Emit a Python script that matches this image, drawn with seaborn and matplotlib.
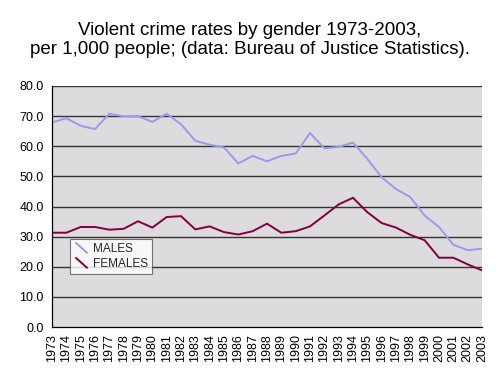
import matplotlib
matplotlib.use("Agg")
import matplotlib.pyplot as plt
import seaborn as sns
import pandas as pd
from matplotlib.ticker import FormatStrFormatter
from matplotlib.legend_handler import HandlerLine2D
from matplotlib.lines import Line2D

years = list(range(1973, 2004))
males = [67.9, 69.3, 66.8, 65.7, 70.8, 69.9, 70.0, 68.1, 70.8, 67.3,
         61.8, 60.5, 59.6, 54.3, 56.8, 55.0, 56.8, 57.6, 64.4, 59.3,
         59.8, 61.2, 55.8, 49.7, 45.8, 43.1, 37.0, 33.2, 27.3, 25.5, 26.0]
females = [31.3, 31.3, 33.2, 33.2, 32.3, 32.6, 35.1, 33.0, 36.5, 36.8,
           32.4, 33.4, 31.5, 30.7, 31.8, 34.3, 31.3, 31.8, 33.4, 37.0,
           40.7, 42.9, 38.1, 34.5, 33.0, 30.6, 28.8, 23.0, 23.0, 20.8, 18.8]
series_names = ["MALES", "FEMALES"]
yticks = [0, 10, 20, 30, 40, 50, 60, 70, 80]
title = "Violent crime rates by gender 1973-2003,\nper 1,000 people; (data: Bureau of Justice Statistics)."

df = pd.DataFrame({"year": years * 2,
                   "rate": males + females,
                   "gender": [series_names[0]] * len(years) + [series_names[1]] * len(years)})


class DiagonalHandler(HandlerLine2D):
    def create_artists(self, legend, orig_handle, xdescent, ydescent,
                       width, height, fontsize, trans):
        line = Line2D([xdescent + 0.15 * width, xdescent + width],
                      [ydescent + height * 1.1, ydescent - height * 0.1])
        self.update_prop(line, orig_handle, legend)
        line.set_transform(trans)
        return [line]


sns.set_theme(style="white")
plt.rcParams['font.family'] = ['Liberation Sans', 'DejaVu Sans']

fig = plt.figure(figsize=(5.0, 3.78), dpi=100)
ax = fig.add_axes([52/500, 1 - 327/378, 430/500, 241/378])
ax.set_facecolor("#DDDBDD")

sns.lineplot(data=df, x="year", y="rate", hue="gender",
             palette={"MALES": "#9A99EE", "FEMALES": "#800040"},
             linewidth=1.4, ax=ax, legend=True)

ax.set_xlim(1973, 2003)
ax.set_ylim(0, 80)
ax.set_yticks(yticks)
ax.yaxis.set_major_formatter(FormatStrFormatter("%.1f"))
ax.set_xticks(years)
ax.set_xticklabels([str(y) for y in years], rotation=90)
ax.tick_params(axis="both", labelsize=9, length=4, width=0.8, color="black",
               direction="out", pad=2, colors="black")
ax.tick_params(axis="x", pad=1)
for y in yticks[1:]:
    ax.axhline(y, color="#333333", linewidth=1.0, zorder=0.5)
for side in ["top", "right"]:
    ax.spines[side].set_visible(False)
for side in ["left", "bottom"]:
    ax.spines[side].set_color("black")
    ax.spines[side].set_linewidth(0.9)
ax.set_xlabel("")
ax.set_ylabel("")

handles, labels = ax.get_legend_handles_labels()
leg = ax.legend(handles, labels, loc="lower left",
                bbox_to_anchor=(12/430, (327-280)/241),
                frameon=True, fancybox=False, fontsize=8.5, handlelength=1.1,
                borderpad=0.35, labelspacing=0.25, handletextpad=0.5,
                handler_map={Line2D: DiagonalHandler()})
leg.get_frame().set_edgecolor("#555555")
leg.get_frame().set_facecolor("white")
leg.get_frame().set_linewidth(0.8)

fig.text(0.5, 1 - 40/378, title, ha="center", va="center", fontsize=13.5,
         color="black", linespacing=1.1)

fig.savefig("out.png", dpi=100, facecolor="white")
